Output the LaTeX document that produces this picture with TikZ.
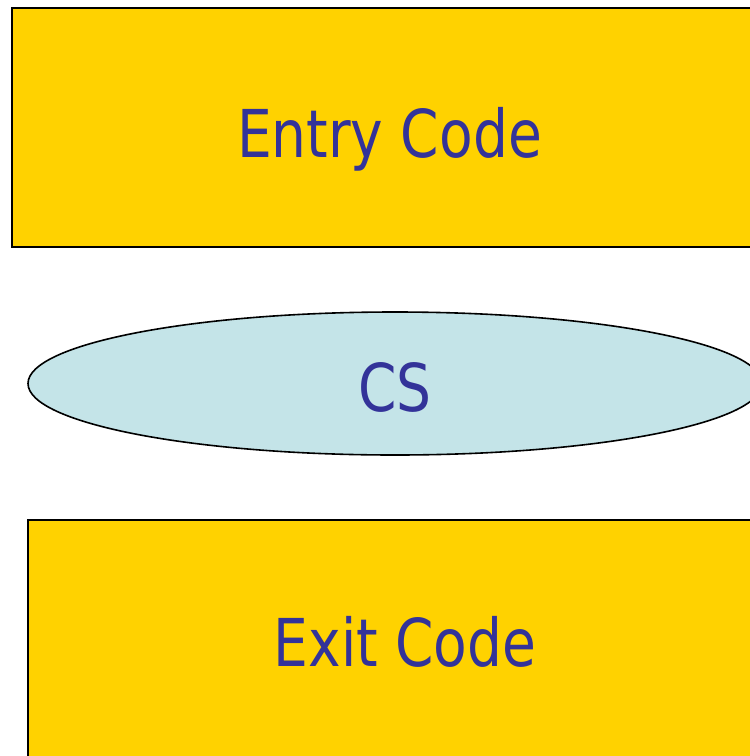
\documentclass[tikz,border=0pt]{standalone}
\usepackage{fontspec}
\newfontfamily\tahfont[FakeStretch=0.834]{DejaVu Sans}
\definecolor{boxgold}{RGB}{255,210,0}
\definecolor{cslight}{RGB}{196,228,232}
\definecolor{txtblue}{RGB}{51,51,153}
\tikzset{
  codebox/.style={draw=black, line width=2pt, fill=boxgold},
  csell/.style={draw=black, line width=1.6pt, fill=cslight},
  lbl/.style={anchor=base, text=txtblue, inner sep=0pt, font=\tahfont\fontsize{66}{66}\selectfont}
}
\begin{document}
\begin{tikzpicture}[x=1pt,y=-1pt]
\useasboundingbox (0,0) rectangle (750,756);
\path[codebox] (12,8) rectangle (790,247);
\path[csell] (395,383.5) ellipse [x radius=367, y radius=71.5];
\path[codebox] (28,520) rectangle (790,790);
\node[lbl] (entry) at (389.5,157) {Entry Code};
\node[lbl] (cs) at (395,411) {CS};
\node[lbl] (exit) at (405,666) {Exit Code};
\end{tikzpicture}
\end{document}
